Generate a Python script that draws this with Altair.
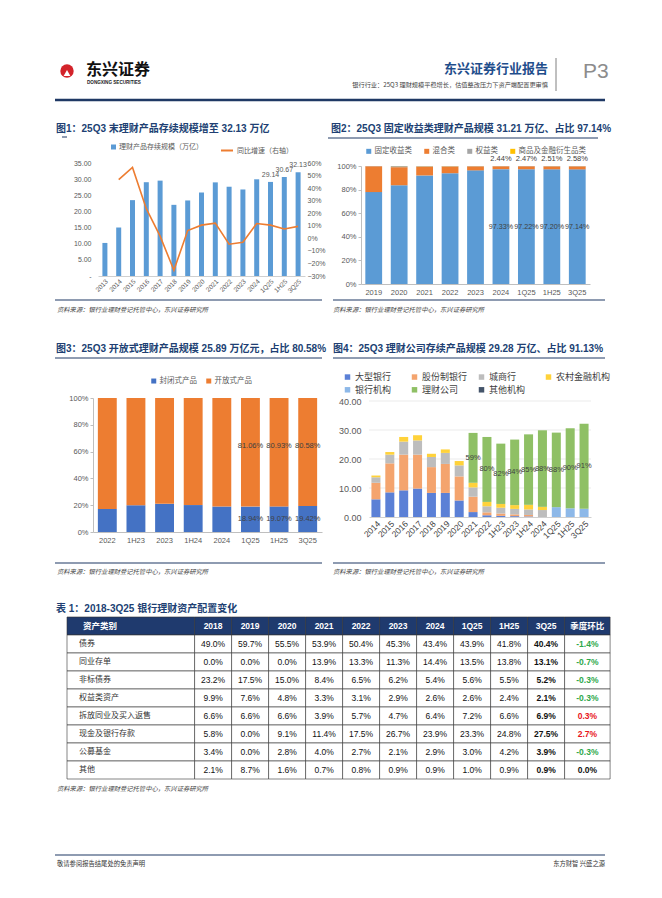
import altair as alt
import pandas as pd

CJK = "Noto Sans CJK SC"
MIX = "Liberation Sans, Noto Sans CJK SC"
NAVY = "#1F3864"
TITLE_C = "#203F73"
AXC = "#595959"
TXC = "#404040"
OX, OY = 8, 8          # page margin: chart origin sits at page (8, 8)
W, H = 646, 870        # whole drawing area

# ---------------- data ----------------
f1_periods = ["2013", "2014", "2015", "2016", "2017", "2018", "2019", "2020",
              "2021", "2022", "2023", "2024", "1Q25", "1H25", "3Q25"]
f1_scale = [10.24, 15.02, 23.50, 29.05, 29.54, 22.04, 23.40, 25.86,
            29.00, 27.65, 26.80, 29.95, 29.14, 30.67, 32.13]
f1_growth = [None, 0.467, 0.565, 0.236, 0.017, -0.254, 0.062, 0.105,
             0.121, -0.047, -0.031, 0.118, 0.105, 0.075, 0.095]
f1_labels = ["", "", "", "", "", "", "", "", "", "", "", "", "29.14", "30.67", "32.13"]
f1_series = ["理财产品存续规模（万亿）", "同比增速（右轴）"]

f2_periods = ["2019", "2020", "2021", "2022", "2023", "2024", "1Q25", "1H25", "3Q25"]
f2_series = ["固定收益类", "混合类", "权益类", "商品及金融衍生品类"]
f2_fixed = [77.9, 83.7, 92.0, 93.9, 96.3, 97.33, 97.22, 97.20, 97.14]
f2_mixed = [21.9, 15.3, 7.5, 5.7, 3.4, 2.44, 2.47, 2.51, 2.58]
f2_equity = [0.2, 0.9, 0.4, 0.3, 0.25, 0.20, 0.27, 0.25, 0.24]
f2_commodity = [0.0, 0.1, 0.1, 0.1, 0.05, 0.03, 0.04, 0.04, 0.04]
f2_fixed_labels = ["", "", "", "", "", "97.33%", "97.22%", "97.20%", "97.14%"]
f2_mixed_labels = ["", "", "", "", "", "2.44%", "2.47%", "2.51%", "2.58%"]

f3_periods = ["2022", "1H23", "2023", "1H24", "2024", "1Q25", "1H25", "3Q25"]
f3_series = ["封闭式产品", "开放式产品"]
f3_closed = [17.2, 20.0, 21.0, 20.1, 19.0, 18.94, 19.07, 19.42]
f3_open = [82.8, 80.0, 79.0, 79.9, 81.0, 81.06, 80.93, 80.58]
f3_closed_labels = ["", "", "", "", "", "18.94%", "19.07%", "19.42%"]
f3_open_labels = ["", "", "", "", "", "81.06%", "80.93%", "80.58%"]

f4_periods = ["2014", "2015", "2016", "2017", "2018", "2019", "2020", "2021",
              "2022", "1H23", "2023", "1H24", "2024", "1Q25", "1H25", "3Q25"]
f4_series = ["大型银行", "股份制银行", "城商行", "农村金融机构", "银行机构", "理财公司", "其他机构"]
f4_big = [6.1, 8.5, 9.2, 9.8, 8.3, 8.3, 5.7, 1.7, 0.6, 0.4, 0.3, 0.2, 0, 0, 0, 0]
f4_joint = [5.7, 10.0, 12.3, 11.7, 8.9, 10.0, 8.3, 5.3, 1.0, 0.8, 0.6, 0.5, 0, 0, 0, 0]
f4_city = [1.9, 3.0, 4.5, 4.9, 3.5, 3.8, 3.8, 3.2, 2.1, 2.0, 1.9, 1.9, 2.4, 0, 0, 0]
f4_rural = [0.6, 0.9, 1.6, 1.8, 1.1, 1.2, 1.5, 1.6, 1.5, 1.3, 1.3, 1.6, 1.1, 0, 0, 0]
f4_bankinst = [0, 0, 0, 0, 0, 0, 0, 0, 0, 0, 0, 0, 0, 3.4, 3.0, 2.85]
f4_wmc = [0, 0, 0, 0, 0, 0, 0, 17.2, 22.4, 20.8, 22.6, 24.3, 26.4, 25.7, 27.6, 29.28]
f4_other = [0, 0, 0, 0, 0, 0, 0, 0, 0, 0, 0, 0, 0, 0, 0, 0]
f4_labels = ["", "", "", "", "", "", "", "59%", "80%", "82%", "84%", "85%", "88%", "88%", "90%", "91%"]
f4_grid = [10, 20, 30, 40]

t_rows = ["债券", "同业存单", "非标债券", "权益类资产", "拆放同业及买入返售", "现金及银行存款", "公募基金", "其他"]
t_cols = ["2018", "2019", "2020", "2021", "2022", "2023", "2024", "1Q25", "1H25", "3Q25"]
t_bond = [49.0, 59.7, 55.5, 53.9, 50.4, 45.3, 43.4, 43.9, 41.8, 40.4]
t_ncd = [0.0, 0.0, 0.0, 13.9, 13.3, 11.3, 14.4, 13.5, 13.8, 13.1]
t_nonstd = [23.2, 17.5, 15.0, 8.4, 6.5, 6.2, 5.4, 5.6, 5.5, 5.2]
t_equity = [9.9, 7.6, 4.8, 3.3, 3.1, 2.9, 2.6, 2.6, 2.4, 2.1]
t_repo = [6.6, 6.6, 6.6, 3.9, 5.7, 4.7, 6.4, 7.2, 6.6, 6.9]
t_cash = [5.8, 0.0, 9.1, 11.4, 17.5, 26.7, 23.9, 23.3, 24.8, 27.5]
t_fund = [3.4, 0.0, 2.8, 4.0, 2.7, 2.1, 2.9, 3.0, 4.2, 3.9]
t_other = [2.1, 8.7, 1.6, 0.7, 0.8, 0.9, 0.9, 1.0, 0.9, 0.9]
t_change = [-1.4, -0.7, -0.3, -0.3, 0.3, 2.7, -0.3, 0.0]
t_head_first = "资产类别"
t_head_last = "季度环比"


# ---------------- helpers (page px -> chart px) ----------------
def px(v):
    return v - OX


def py(v):
    return v - OY


def off_bottom(page_y):
    return py(page_y) - H


def off_left(page_x):
    return -px(page_x)


def off_right(page_x):
    return px(page_x) - W


def txt(text, x, y, size=8, color="#000", weight="normal", align="left",
        font=CJK, style="normal"):
    return alt.Chart(pd.DataFrame({"t": [text]})).mark_text(
        align=align, baseline="middle", fontSize=size, fontWeight=weight,
        color=color, font=font, fontStyle=style).encode(
        x=alt.value(px(x)), y=alt.value(py(y)), text="t:N")


def hline(x1, x2, y, color=NAVY, width=1.0):
    return alt.Chart(pd.DataFrame({"a": [0]})).mark_rule(color=color, strokeWidth=width).encode(
        x=alt.value(px(x1)), x2=alt.value(px(x2)), y=alt.value(py(y)))


def vline(x, y1, y2, color="#808080", width=1.0):
    return alt.Chart(pd.DataFrame({"a": [0]})).mark_rule(color=color, strokeWidth=width).encode(
        x=alt.value(px(x)), y=alt.value(py(y1)), y2=alt.value(py(y2)))


SRC = "资料来源：银行业理财登记托管中心，东兴证券研究所"

# ---------------- page furniture ----------------
logo = alt.Chart(pd.DataFrame({"a": [0]})).mark_circle(size=180, color="#D3232A", opacity=1).encode(
    x=alt.value(px(67)), y=alt.value(py(71)))
logo2 = alt.Chart(pd.DataFrame({"a": [0]})).mark_point(shape="triangle-up", filled=True, size=45,
                                                         color="white", opacity=1).encode(
    x=alt.value(px(67)), y=alt.value(py(73)))
furniture = [
    logo, logo2,
    txt("东兴证券", 86, 70, size=16, weight="bold", color="#111"),
    txt("DONGXING SECURITIES", 87, 83, size=4.6, weight="bold", color="#222", font="Liberation Sans"),
    txt("东兴证券行业报告", 548, 69, size=13, weight="bold", color="#1F4E8C", align="right"),
    txt("银行行业：25Q3 理财规模平稳增长，估值整改压力下资产端配置更审慎", 548, 85, size=6.2,
        color="#444", align="right"),
    vline(556, 58, 91),
    txt("P3", 583, 72, size=21, color="#8C8C8C", font="Liberation Sans"),
    hline(55, 605, 100, NAVY, 2.5),
    txt("图1：25Q3 末理财产品存续规模增至 32.13 万亿", 56, 129, size=10, weight="bold", color=TITLE_C, font=MIX),
    hline(62, 67, 137, NAVY, 1),
    txt("图2：25Q3 固定收益类理财产品规模 31.21 万亿、占比 97.14%", 331, 129, size=10, weight="bold",
        color=TITLE_C, font=MIX),
    hline(328, 598, 138, NAVY, 1),
    hline(55, 322, 300, NAVY, 1.2), hline(333, 605, 300, NAVY, 1.2),
    txt(SRC, 57, 310, size=6.3, color="#444", style="italic"),
    txt(SRC, 333, 310, size=6.3, color="#444", style="italic"),
    txt("图3：25Q3 开放式理财产品规模 25.89 万亿元，占比 80.58%", 56, 349, size=10, weight="bold",
        color=TITLE_C, font=MIX),
    txt("图4：25Q3 理财公司存续产品规模  29.28 万亿、占比 91.13%", 333, 349, size=10, weight="bold",
        color=TITLE_C, font=MIX),
    hline(55, 322, 358, NAVY, 1), hline(333, 605, 358, NAVY, 1),
    hline(55, 322, 563, NAVY, 1.2), hline(333, 605, 563, NAVY, 1.2),
    txt(SRC, 57, 572, size=6.3, color="#444", style="italic"),
    txt(SRC, 333, 572, size=6.3, color="#444", style="italic"),
    txt("表 1：2018-3Q25 银行理财资产配置变化", 56, 609, size=10, weight="bold", color=TITLE_C, font=MIX),
    txt(SRC, 57, 789, size=6.3, color="#444", style="italic"),
    hline(55, 605, 855, NAVY, 1.2),
    txt("敬请参阅报告结尾处的免责声明", 57, 864, size=6.3, color="#333"),
    txt("东方财智 兴盛之源", 605, 864, size=6.3, color="#333", align="right"),
]

# ---------------- figure 1 ----------------
F1 = dict(x0=98, x1=305, y0=163, y1=276)
f1_df = pd.DataFrame({"period": f1_periods, "scale": f1_scale, "growth": f1_growth, "label": f1_labels})
f1_df["s1"] = f1_series[0]
f1_df["s2"] = f1_series[1]
x1 = alt.X("period:N", sort=f1_periods, title=None,
           scale=alt.Scale(range=[px(F1["x0"]), px(F1["x1"])], paddingInner=0.5, paddingOuter=0.25),
           axis=alt.Axis(orient="bottom", offset=off_bottom(F1["y1"]), labelAngle=-45, labelFontSize=6.5,
                         labelColor=AXC, labelFont=MIX, ticks=False, domainColor="#D0D0D0",
                         labelPadding=2, labelOverlap=False))
y1 = alt.Y("scale:Q", title=None, stack=None,
           scale=alt.Scale(domain=[0, 35], nice=False, range=[py(F1["y1"]), py(F1["y0"])]),
           axis=alt.Axis(orient="left", offset=off_left(F1["x0"]), values=[0, 5, 10, 15, 20, 25, 30, 35],
                         labelExpr="datum.value == 0 ? '-' : format(datum.value, '.2f')",
                         grid=False, domain=False, ticks=False, labelFontSize=7, labelColor=AXC,
                         labelFont=MIX, labelPadding=7))
base1 = alt.Chart(f1_df)
bars1 = base1.mark_bar(size=5).encode(
    x=x1, y=y1,
    color=alt.Color("s1:N", title=None, scale=alt.Scale(domain=[f1_series[0]], range=["#5B9BD5"]),
                    legend=alt.Legend(orient="none", legendX=px(110), legendY=py(143.5), symbolType="square",
                                      symbolSize=25, labelFontSize=7, labelFont=CJK, labelColor=AXC,
                                      labelOffset=2)))
lab1 = base1.mark_text(dy=-7, fontSize=7, color=AXC, font=MIX).encode(x=x1, y=y1, text="label:N")
line1 = base1.mark_line(strokeWidth=1.6).encode(
    x=x1,
    y=alt.Y("growth:Q", title=None,
            scale=alt.Scale(domain=[-0.3, 0.6], nice=False, range=[py(F1["y1"]), py(F1["y0"])]),
            axis=alt.Axis(orient="right", offset=off_right(F1["x1"]),
                          values=[-0.3, -0.2, -0.1, 0, 0.1, 0.2, 0.3, 0.4, 0.5, 0.6],
                          format=".0%", grid=False, domain=False, ticks=False, labelFontSize=7,
                          labelColor=AXC, labelFont=MIX, labelPadding=2)),
    stroke=alt.Stroke("s2:N", title=None, scale=alt.Scale(domain=[f1_series[1]], range=["#ED7D31"]),
                      legend=alt.Legend(orient="none", legendX=px(220), legendY=py(143.5), symbolType="stroke",
                                        symbolSize=144, symbolStrokeWidth=2, labelFontSize=7,
                                        labelFont=CJK, labelColor=AXC, labelOffset=3)))
fig1 = alt.layer(alt.layer(bars1, lab1), line1).resolve_scale(y="independent")


# ---------------- shared helpers for % charts ----------------
def pct_y(field, box, stack=None, labsize=7.5):
    return alt.Y(field, title=None, stack=stack,
                 scale=alt.Scale(domain=[0, 100], nice=False, range=[py(box["y1"]), py(box["y0"])]),
                 axis=alt.Axis(orient="left", offset=off_left(box["x0"]), values=[0, 20, 40, 60, 80, 100],
                               labelExpr="datum.value + '%'", grid=False, domainColor="#BFBFBF",
                               tickColor="#BFBFBF", tickSize=3, labelFontSize=labsize, labelColor=AXC,
                               labelFont=MIX, labelPadding=2))


def cat_x(periods, box, pad=0.34):
    return alt.X("period:N", sort=periods, title=None,
                 scale=alt.Scale(range=[px(box["x0"]), px(box["x1"])], paddingInner=pad, paddingOuter=pad / 2),
                 axis=alt.Axis(orient="bottom", offset=off_bottom(box["y1"]), labelAngle=0, labelFontSize=7.5,
                               labelColor=AXC, labelFont=MIX, ticks=False, domainColor="#BFBFBF",
                               labelPadding=4, labelOverlap=False))


# ---------------- figure 2 ----------------
F2 = dict(x0=361, x1=590, y0=166, y1=284)
f2_rows = []
for i, p in enumerate(f2_periods):
    for j, vals in enumerate([f2_fixed, f2_mixed, f2_equity, f2_commodity]):
        f2_rows.append({"period": p, "series": f2_series[j], "value": vals[i], "ord": j})
f2_df = pd.DataFrame(f2_rows)
f2_lab = pd.DataFrame({"period": f2_periods, "mid": [v / 2 for v in f2_fixed],
                       "top": [a + b for a, b in zip(f2_fixed, f2_mixed)],
                       "fl": f2_fixed_labels, "ml": f2_mixed_labels})
x2 = cat_x(f2_periods, F2)
bars2 = alt.Chart(f2_df).mark_bar().encode(
    x=x2, y=pct_y("value:Q", F2, "zero"),
    color=alt.Color("series:N", sort=f2_series,
                    scale=alt.Scale(domain=f2_series, range=["#5B9BD5", "#ED7D31", "#A5A5A5", "#FFC000"]),
                    legend=alt.Legend(title=None, orient="none", direction="horizontal", legendX=px(365),
                                      legendY=py(147.2), symbolType="square", symbolSize=25,
                                      labelFontSize=7.5, labelFont=CJK, labelColor=AXC, labelOffset=2,
                                      columnPadding=11)),
    order=alt.Order("ord:Q", sort="ascending"))
lab2a = alt.Chart(f2_lab).mark_text(fontSize=7.2, color=TXC, font=MIX).encode(
    x=x2, y=pct_y("mid:Q", F2), text="fl:N")
lab2b = alt.Chart(f2_lab).mark_text(fontSize=7.5, color=TXC, font=MIX, dy=-7).encode(
    x=x2, y=pct_y("top:Q", F2), text="ml:N")
fig2 = alt.layer(bars2, lab2a, lab2b)

# ---------------- figure 3 ----------------
F3 = dict(x0=93, x1=322, y0=398, y1=532)
f3_rows = []
for i, p in enumerate(f3_periods):
    for j, vals in enumerate([f3_closed, f3_open]):
        f3_rows.append({"period": p, "series": f3_series[j], "value": vals[i], "ord": j})
f3_df = pd.DataFrame(f3_rows)
f3_lab = pd.DataFrame({"period": f3_periods, "cmid": [v / 2 for v in f3_closed],
                       "omid": [c + o / 2 for c, o in zip(f3_closed, f3_open)],
                       "cl": f3_closed_labels, "ol": f3_open_labels})
x3 = cat_x(f3_periods, F3)
bars3 = alt.Chart(f3_df).mark_bar().encode(
    x=x3, y=pct_y("value:Q", F3, "zero"),
    color=alt.Color("series:N", sort=f3_series,
                    scale=alt.Scale(domain=f3_series, range=["#4472C4", "#ED7D31"]),
                    legend=alt.Legend(title=None, orient="none", direction="horizontal", legendX=px(150),
                                      legendY=py(376.9), symbolType="square", symbolSize=25,
                                      labelFontSize=7.5, labelFont=CJK, labelColor=AXC, labelOffset=2,
                                      columnPadding=8)),
    order=alt.Order("ord:Q", sort="ascending"))
lab3a = alt.Chart(f3_lab).mark_text(fontSize=7.5, color=TXC, font=MIX).encode(
    x=x3, y=pct_y("cmid:Q", F3), text="cl:N")
lab3b = alt.Chart(f3_lab).mark_text(fontSize=7.5, color=TXC, font=MIX, dy=-6).encode(
    x=x3, y=pct_y("omid:Q", F3), text="ol:N")
fig3 = alt.layer(bars3, lab3a, lab3b)

# ---------------- figure 4 ----------------
F4 = dict(x0=369, x1=591, y0=401, y1=517)
f4_rows = []
f4_lists = [f4_big, f4_joint, f4_city, f4_rural, f4_bankinst, f4_wmc, f4_other]
for i, p in enumerate(f4_periods):
    for j, vals in enumerate(f4_lists):
        if vals[i] > 0:
            f4_rows.append({"period": p, "series": f4_series[j], "value": vals[i], "ord": j})
f4_df = pd.DataFrame(f4_rows)
f4_below = [sum(l[i] for l in f4_lists[:5]) for i in range(len(f4_periods))]
f4_lab = pd.DataFrame({"period": f4_periods, "mid": [b + w / 2 for b, w in zip(f4_below, f4_wmc)],
                       "lab": f4_labels})
x4 = alt.X("period:N", sort=f4_periods, title=None,
           scale=alt.Scale(range=[px(F4["x0"]), px(F4["x1"])], paddingInner=0.35, paddingOuter=0.175),
           axis=alt.Axis(orient="bottom", offset=off_bottom(F4["y1"]), labelAngle=-45, labelFontSize=8.5,
                         labelColor=TXC, labelFont=MIX, ticks=False, domainColor="#D0D0D0",
                         labelPadding=2, labelOverlap=False))


def y4(field, stack=None):
    return alt.Y(field, title=None, stack=stack,
                 scale=alt.Scale(domain=[0, 40], nice=False, range=[py(F4["y1"]), py(F4["y0"])]),
                 axis=alt.Axis(orient="left", offset=off_left(F4["x0"]), values=[0, 10, 20, 30, 40],
                               format=".2f", grid=False, domain=False, ticks=False, labelFontSize=9,
                               labelColor=AXC, labelFont=MIX, labelPadding=8))


grid4 = alt.Chart(pd.DataFrame({"v": f4_grid})).mark_rule(color="#E6E6E6", strokeWidth=0.8).encode(
    y=y4("v:Q"), x=alt.value(px(F4["x0"])), x2=alt.value(px(F4["x1"])))
bars4 = alt.Chart(f4_df).mark_bar().encode(
    x=x4, y=y4("value:Q", "zero"),
    color=alt.Color("series:N", sort=f4_series,
                    scale=alt.Scale(domain=f4_series,
                                    range=["#5B80D6", "#F4A46E", "#BDBDBD", "#FFD23A", "#8DB8E8",
                                           "#8FC065", "#44546A"]),
                    legend=alt.Legend(title=None, orient="none", direction="horizontal", columns=4,
                                      gridAlign="all", legendX=px(343), legendY=py(372.3),
                                      symbolType="square", symbolSize=30,
                                      labelFontSize=9, labelFont=CJK, labelColor=TXC, labelOffset=3,
                                      columnPadding=-6.5, rowPadding=3)),
    order=alt.Order("ord:Q", sort="ascending"))
lab4 = alt.Chart(f4_lab).mark_text(fontSize=7.5, color=TXC, font=MIX).encode(
    x=x4, y=y4("mid:Q"), text="lab:N")
fig4 = alt.layer(grid4, bars4, lab4)

# ---------------- table ----------------
T_X0, T_Y0, T_Y1 = 67, 617, 779
TW_A, TW_B, TW_C = 127.6, 370.0, 45.5
XA0, XB0, XC0, XC1 = T_X0, T_X0 + TW_A, T_X0 + TW_A + TW_B, T_X0 + TW_A + TW_B + TW_C
row_order = ["header"] + t_rows
t_values = [t_bond, t_ncd, t_nonstd, t_equity, t_repo, t_cash, t_fund, t_other]
HEAD_FILL = "#1F3A6E"
yt = alt.Y("row:N", sort=row_order, axis=None,
           scale=alt.Scale(domain=row_order, range=[py(T_Y0), py(T_Y1)], paddingInner=0, paddingOuter=0))

a_df = pd.DataFrame({"row": row_order, "text": [t_head_first] + t_rows,
                     "fill": [HEAD_FILL] + ["#FFFFFF"] * len(t_rows)})
a_rect = alt.Chart(a_df).mark_rect(stroke="#333", strokeWidth=0.6).encode(
    x=alt.value(px(XA0)), x2=alt.value(px(XB0)), y=yt, fill=alt.Fill("fill:N", scale=None))
a_head = alt.Chart(a_df).transform_filter("datum.row == 'header'").mark_text(
    align="left", fontSize=8.5, fontWeight="bold", color="white", font=CJK).encode(
    x=alt.value(px(XA0 + 16)), y=yt, text="text:N")
a_body = alt.Chart(a_df).transform_filter("datum.row != 'header'").mark_text(
    align="left", fontSize=8, color="#333", font=CJK).encode(
    x=alt.value(px(XA0 + 12)), y=yt, text="text:N")

b_rows = []
for c in t_cols:
    b_rows.append({"row": "header", "col": c, "text": c, "kind": "head", "fill": HEAD_FILL})
for r, vals in zip(t_rows, t_values):
    for c, v in zip(t_cols, vals):
        b_rows.append({"row": r, "col": c, "text": f"{v:.1f}%",
                       "kind": "bold" if c == "3Q25" else "norm", "fill": "#FFFFFF"})
b_df = pd.DataFrame(b_rows)
xb = alt.X("col:N", sort=t_cols, axis=None,
           scale=alt.Scale(domain=t_cols, range=[px(XB0), px(XC0)], paddingInner=0, paddingOuter=0))
b_rect = alt.Chart(b_df).mark_rect(stroke="#333", strokeWidth=0.6).encode(
    x=xb, y=yt, fill=alt.Fill("fill:N", scale=None))
b_head = alt.Chart(b_df).transform_filter("datum.kind == 'head'").mark_text(
    fontSize=8.5, fontWeight="bold", color="white", font=MIX).encode(x=xb, y=yt, text="text:N")
b_norm = alt.Chart(b_df).transform_filter("datum.kind == 'norm'").mark_text(
    fontSize=8.5, color="#111", font=MIX).encode(x=xb, y=yt, text="text:N")
b_bold = alt.Chart(b_df).transform_filter("datum.kind == 'bold'").mark_text(
    fontSize=8.5, fontWeight="bold", color="#111", font=MIX).encode(x=xb, y=yt, text="text:N")

c_rows = [{"row": "header", "text": t_head_last, "fill": HEAD_FILL, "tc": "#FFFFFF"}]
for r, v in zip(t_rows, t_change):
    c_rows.append({"row": r, "text": f"{v:.1f}%", "fill": "#FFFFFF",
                   "tc": "#2EA84A" if v < 0 else ("#E8141B" if v > 0 else "#111111")})
c_df = pd.DataFrame(c_rows)
c_rect = alt.Chart(c_df).mark_rect(stroke="#333", strokeWidth=0.6).encode(
    x=alt.value(px(XC0)), x2=alt.value(px(XC1)), y=yt, fill=alt.Fill("fill:N", scale=None))
c_head = alt.Chart(c_df).transform_filter("datum.row == 'header'").mark_text(
    fontSize=8.5, fontWeight="bold", font=CJK).encode(
    x=alt.value(px((XC0 + XC1) / 2)), y=yt, text="text:N", color=alt.Color("tc:N", scale=None))
c_body = alt.Chart(c_df).transform_filter("datum.row != 'header'").mark_text(
    fontSize=8.5, fontWeight="bold", font=MIX).encode(
    x=alt.value(px((XC0 + XC1) / 2)), y=yt, text="text:N", color=alt.Color("tc:N", scale=None))

table = alt.layer(a_rect, b_rect, c_rect, a_head, a_body, b_head, b_norm, b_bold, c_head, c_body)

# ---------------- assemble ----------------
chart = alt.layer(*furniture, fig1, fig2, fig3, fig4, table).resolve_scale(
    x="independent", y="independent", color="independent", stroke="independent"
).properties(width=W, height=H, padding=0).configure_view(stroke=None)

chart.save("out.html", embed_options={"renderer": "svg", "actions": False})
